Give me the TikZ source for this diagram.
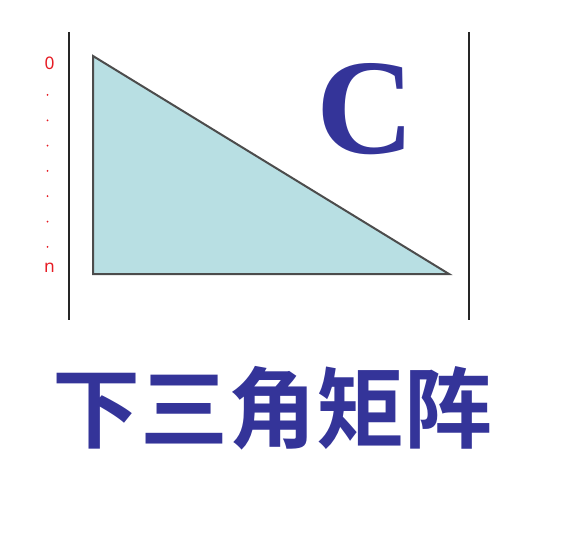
\documentclass[tikz,border=0pt]{standalone}
\usepackage{fontspec}
\setmainfont{Liberation Serif}
\newfontfamily\labelfont{Noto Sans}
\newfontfamily\cjkfont{Noto Sans CJK SC}[BoldFont={* Bold}]
\definecolor{trifill}{HTML}{B8DFE3}
\definecolor{titleblue}{HTML}{343499}
\definecolor{rowred}{HTML}{E61C24}
\begin{document}
\begin{tikzpicture}[
			x=0.75pt, y=-0.75pt,
			every node/.style = {inner sep=0pt},
			bar/.style        = {line width=1.6pt, black!85},
			rowlabel/.style   = {font=\labelfont\fontsize{13}{13}\selectfont, text=rowred}
			]
			\useasboundingbox (0,0) rectangle (580,538);
			%--- matrix bars ---
			\coordinate (lt) at (69,32);
			\coordinate (lb) at (69,320);
			\coordinate (rt) at (469,32);
			\coordinate (rb) at (469,320);
			\draw[bar] (lt) -- (lb);
			\draw[bar] (rt) -- (rb);
			
			%--- triangle corners ---
			\coordinate (top)   at (93,56);
			\coordinate (left)  at (93,274);
			\coordinate (right) at (449,274);
			\draw[fill=trifill, draw=black!70, line width=1.5pt, line join=miter] (top) -- (left) -- (right) -- cycle;
			
			%--- row labels ---
			\node[rowlabel] (r0) at (49.5,63.5) {0};
			\foreach \i in {0,...,6}
				\fill[rowred] (47.5,95+25.3*\i) circle (1);
			\node[rowlabel] (rn) at (49.5,268) {n};
			
			%--- letter and title ---
			\node[font=\bfseries\fontsize{102}{102}\selectfont, text=titleblue] (c) at (366,109) {C};
			\node[font=\cjkfont\bfseries\fontsize{66}{66}\selectfont, text=titleblue] (title) at (272,408) {下三角矩阵};
		\end{tikzpicture}
\end{document}
